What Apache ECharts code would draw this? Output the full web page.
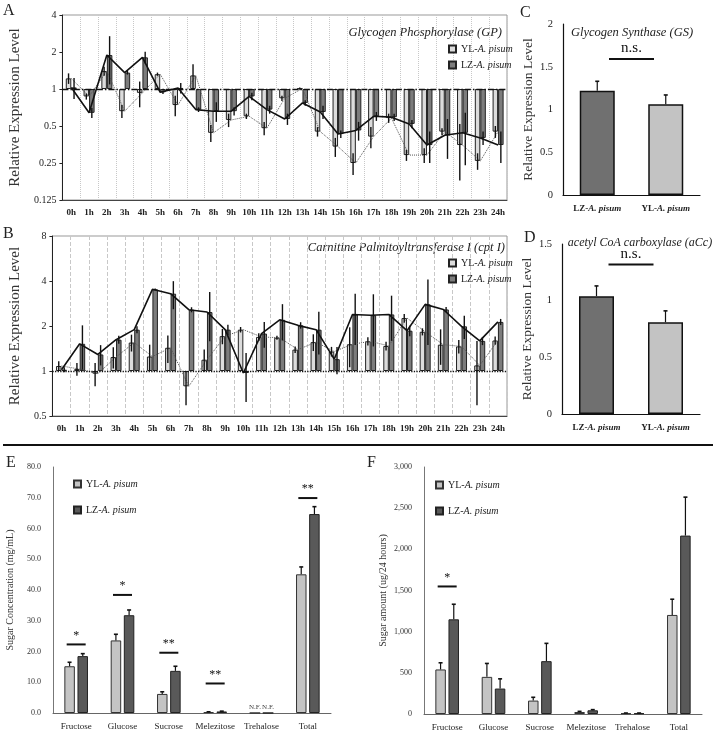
<!DOCTYPE html>
<html><head><meta charset="utf-8">
<script src="https://cdn.jsdelivr.net/npm/echarts@6/dist/echarts.min.js"></script>
<style>html,body{margin:0;padding:0;background:#fff}#c{width:716px;height:736px}</style>
</head><body><div id="c"></div>
<script>
// ---------- DATA ----------
const hours = ['0h','1h','2h','3h','4h','5h','6h','7h','8h','9h','10h','11h','12h','13h','14h','15h','16h','17h','18h','19h','20h','21h','22h','23h','24h'];
// Panel A: Glycogen Phosphorylase (GP)
const gpYL    = [1.22,0.87,1.40,0.66,0.93,1.32,0.74,1.29,0.44,0.56,0.60,0.48,0.84,1.01,0.45,0.34,0.25,0.41,0.58,0.29,0.29,0.45,0.35,0.26,0.45];
const gpYLErr = [0.12,0.05,0.12,0.08,0.22,0.04,0.14,0.30,0.07,0.07,0.03,0.06,0.04,0.02,0.04,0.06,0.05,0.08,0.05,0.03,0.04,0.03,0.17,0.04,0.05];
const gpLZ    = [1.03,0.64,1.89,1.36,1.81,0.94,1.02,0.68,0.66,0.66,0.87,0.68,0.57,0.77,0.65,0.43,0.46,0.60,0.59,0.52,0.35,0.42,0.44,0.40,0.35];
const gpLZErr = [0.20,0.06,0.80,0.05,0.20,0.03,0.10,0.03,0.12,0.05,0.06,0.05,0.06,0.04,0.08,0.03,0.08,0.05,0.04,0.04,0.10,0.15,0.20,0.05,0.10];
// Panel B: Carnitine Palmitoyltransferase I (cpt I)
const cptYL    = [1.08,1.03,0.96,1.24,1.55,1.25,1.43,0.79,1.19,1.71,1.89,1.69,1.67,1.39,1.56,1.35,1.51,1.58,1.47,2.26,1.83,1.50,1.46,1.09,1.60];
const cptYLErr = [0.08,0.10,0.17,0.20,0.20,0.25,0.30,0.20,0.20,0.20,0.08,0.10,0.05,0.07,0.20,0.10,0.45,0.10,0.10,0.15,0.10,0.40,0.15,0.50,0.10];
const cptLZ    = [1.02,1.52,1.29,1.62,1.89,3.52,3.29,2.57,2.48,1.89,0.97,1.78,2.20,2.02,1.89,1.20,2.39,2.36,2.39,1.86,2.79,2.58,1.99,1.59,2.13];
const cptLZErr = [0.04,0.50,0.20,0.10,0.10,0.05,0.70,0.10,0.90,0.15,0.35,0.35,0.60,0.10,0.60,0.25,0.90,0.90,0.80,0.15,1.30,0.10,0.35,0.10,0.10];
// Panels C, D
const strainCats = ['LZ-A. pisum','YL-A. pisum'];
const gsVals = [1.22, 1.06];
const gsErr  = [0.11, 0.11];
const accVals = [1.04, 0.81];
const accErr  = [0.09, 0.10];
const nsText = 'n.s.';
const gsSigY = 1.59;
const accSigY = 1.32;
// Panels E, F
const sugarCats = ['Fructose','Glucose','Sucrose','Melezitose','Trehalose','Total'];
const concYL    = [15.2, 23.6, 6.2, 0.3, 0, 45.1];
const concYLErr = [1.3, 2.0, 0.7, 0.1, 0, 2.4];
const concLZ    = [18.5, 31.8, 13.7, 0.5, 0, 64.7];
const concLZErr = [0.8, 1.7, 1.5, 0.1, 0, 2.4];
const concNF    = ['', '', '', '', 'N.F.', ''];
const concSigCat  = [0, 1, 2, 3, 5];
const concSigY    = [22.3, 38.4, 19.6, 9.6, 69.9];
const concSigText = ['*', '*', '**', '**', '**'];
const amtYL    = [541, 451, 163, 24, 8, 1203];
const amtYLErr = [81, 163, 40, 8, 4, 191];
const amtLZ    = [1150, 309, 642, 45, 8, 2167];
const amtLZErr = [183, 118, 216, 8, 4, 467];
const amtSigCat  = [0];
const amtSigY    = [1549];
const amtSigText = ['*'];

// ---------- STYLE ----------
const SERIF = 'Liberation Serif';
const cYLa = '#dcdcdc', cLZa = '#7c7c7c';
const cYLc = '#c3c3c3', cLZc = '#707070';
const cYLe = '#c4c4c4', cLZe = '#595959';
const BW_T = 5.5;
const richLeg = {
  n: {fontFamily: SERIF, fontSize: 10, color: '#222'},
  i: {fontFamily: SERIF, fontSize: 10, color: '#222', fontStyle: 'italic'}
};
function legFmt(name) { return '{n|' + name.split('-')[0] + '-}{i|A. pisum}'; }
function catFmt(v) { const k = v.indexOf('-'); return '{n|' + v.slice(0, k + 1) + '}{i|' + v.slice(k + 1) + '}'; }

function errRender(vals, errs, offset, cap, twoSided) {
  return function (params, api) {
    const i = params.dataIndex;
    const m = vals[i], e = errs[i];
    if (!e) return;
    const lo = twoSided ? Math.max(m - e, 1e-4) : m;
    const p1 = api.coord([i, lo]);
    const p2 = api.coord([i, m + e]);
    const cx = p1[0] + offset;
    const ch = [{type: 'line', shape: {x1: cx, y1: p1[1], x2: cx, y2: p2[1]}, style: {stroke: '#111', lineWidth: twoSided ? 1.4 : 1.2}}];
    if (cap) ch.push({type: 'line', shape: {x1: cx - cap, y1: p2[1], x2: cx + cap, y2: p2[1]}, style: {stroke: '#111', lineWidth: 1.6}});
    return {type: 'group', children: ch};
  };
}
function errSeries(xi, vals, errs, offset, cap, twoSided) {
  return {type: 'custom', xAxisIndex: xi, yAxisIndex: xi, z: 5, silent: true,
    renderItem: errRender(vals, errs, offset, cap, twoSided),
    data: vals.map((v, i) => [i, v])};
}
function sigSeries(xi, cats, ys, texts, halfW, fontSize, pair) {
  return {type: 'custom', xAxisIndex: xi, yAxisIndex: xi, z: 6, silent: true,
    renderItem: function (params, api) {
      const i = params.dataIndex;
      let cx, cy;
      if (pair) {
        const a = api.coord([0, ys[i]]), b = api.coord([1, ys[i]]);
        cx = (a[0] + b[0]) / 2; cy = a[1];
      } else {
        const p = api.coord([cats[i], ys[i]]); cx = p[0]; cy = p[1];
      }
      return {type: 'group', children: [
        {type: 'line', shape: {x1: cx - halfW, y1: cy, x2: cx + halfW, y2: cy}, style: {stroke: '#111', lineWidth: 2}},
        {type: 'text', x: cx, y: cy - 3, style: {text: texts[i], fontFamily: SERIF, fontSize: fontSize, fill: '#111', align: 'center', verticalAlign: 'bottom'}}
      ]};
    },
    data: ys.map((y, i) => [cats[i], y])};
}

function timeXAxis(gi, dashType) {
  return {type: 'category', gridIndex: gi, data: hours, boundaryGap: true,
    axisLine: {lineStyle: {color: '#444'}}, axisTick: {show: false},
    axisLabel: {interval: 0, fontFamily: SERIF, fontSize: 9, color: '#222', fontWeight: 'bold', margin: 8},
    splitLine: {show: true, interval: 0, lineStyle: {color: '#c8c8c8', type: dashType, width: 1}}};
}
function logYAxis(gi, mn, mx) {
  return {type: 'log', logBase: 2, gridIndex: gi, min: mn, max: mx,
    name: 'Relative Expression Level', nameLocation: 'middle', nameGap: 26,
    nameTextStyle: {fontFamily: SERIF, fontSize: 15, color: '#333'},
    axisLine: {show: true, lineStyle: {color: '#222'}},
    axisTick: {show: true, length: 3, lineStyle: {color: '#222'}},
    axisLabel: {fontFamily: SERIF, fontSize: 10, color: '#222', margin: 6,
      formatter: v => String(+(+v).toFixed(3))},
    splitLine: {show: false}};
}
function timeSeries(gi, yl, ylE, lz, lzE, refType) {
  const names = gi === 0 ? ['YL-A', 'LZ-A'] : ['YL-B', 'LZ-B'];
  return [
    {type: 'bar', name: names[0], xAxisIndex: gi, yAxisIndex: gi, data: yl, barWidth: BW_T, barGap: '0%',
     itemStyle: {color: cYLa, borderColor: '#222', borderWidth: 1},
     markLine: {silent: true, symbol: 'none', label: {show: false},
       lineStyle: {color: '#111', width: 1.3, type: refType}, data: [{yAxis: 1}]}},
    {type: 'bar', name: names[1], xAxisIndex: gi, yAxisIndex: gi, data: lz, barWidth: BW_T,
     itemStyle: {color: cLZa, borderColor: '#222', borderWidth: 1}},
    {type: 'line', xAxisIndex: gi, yAxisIndex: gi, data: yl, symbol: 'none', z: 4, silent: true,
     lineStyle: {color: '#555', width: 1, type: 'dotted'}},
    {type: 'line', xAxisIndex: gi, yAxisIndex: gi, data: lz, symbol: 'none', z: 4, silent: true,
     lineStyle: {color: '#111', width: 1.6}},
    errSeries(gi, yl, ylE, -BW_T / 2, 0, true),
    errSeries(gi, lz, lzE, BW_T / 2, 0, true)
  ];
}
function strainX(gi) {
  return {type: 'category', gridIndex: gi, data: strainCats,
    axisLine: {lineStyle: {color: '#111', width: 1.2}}, axisTick: {show: false},
    axisLabel: {interval: 0, hideOverlap: false, formatter: catFmt, margin: 9, rich: {
      n: {fontFamily: SERIF, fontSize: 9, color: '#222', fontWeight: 'bold'},
      i: {fontFamily: SERIF, fontSize: 9, color: '#222', fontStyle: 'italic', fontWeight: 'bold'}}}};
}
function strainY(gi, mx) {
  return {type: 'value', gridIndex: gi, min: 0, max: mx, interval: 0.5,
    name: 'Relative Expression Level', nameLocation: 'middle', nameGap: 28,
    nameTextStyle: {fontFamily: SERIF, fontSize: 13.5, color: '#333'},
    axisLine: {show: true, lineStyle: {color: '#111', width: 1.2}}, axisTick: {show: false},
    axisLabel: {fontFamily: SERIF, fontSize: 10.5, color: '#222', margin: 10},
    splitLine: {show: false}};
}
function strainSeries(gi, vals, errs, ys) {
  return [
    {type: 'bar', xAxisIndex: gi, yAxisIndex: gi, barWidth: 35,
     data: vals.map((v, i) => ({value: v, itemStyle: {color: i === 0 ? cLZc : cYLc}})),
     itemStyle: {borderColor: '#111', borderWidth: 1.5}},
    errSeries(gi, vals, errs, 0, 2, false),
    sigSeries(gi, [0], [ys], [nsText], 22.5, 15, true)
  ];
}
function sugarX(gi) {
  return {type: 'category', gridIndex: gi, data: sugarCats,
    axisLine: {lineStyle: {color: '#666'}}, axisTick: {show: false},
    axisLabel: {interval: 0, fontFamily: SERIF, fontSize: 9, color: '#222', margin: 9}};
}
function sugarY(gi, mx, itv, name, gap, fmt) {
  return {type: 'value', gridIndex: gi, min: 0, max: mx, interval: itv,
    name: name, nameLocation: 'middle', nameGap: gap,
    nameTextStyle: {fontFamily: SERIF, fontSize: 10, color: '#333'},
    axisLine: {show: true, lineStyle: {color: '#777'}}, axisTick: {show: false},
    axisLabel: {fontFamily: SERIF, fontSize: 8, color: '#333', margin: 12, formatter: fmt},
    splitLine: {show: false}};
}
function sugarSeries(gi, yl, ylE, lz, lzE, nf) {
  const names = gi === 4 ? ['YL-E', 'LZ-E'] : ['YL-F', 'LZ-F'];
  const lab = {show: !!nf, position: 'top', distance: 2, fontFamily: SERIF, fontSize: 7, color: '#444',
    formatter: p => nf ? nf[p.dataIndex] : ''};
  return [
    {type: 'bar', name: names[0], xAxisIndex: gi, yAxisIndex: gi, data: yl, barWidth: 10.5, barGap: '25%',
     itemStyle: {color: cYLe, borderColor: '#333', borderWidth: 1}, label: lab},
    {type: 'bar', name: names[1], xAxisIndex: gi, yAxisIndex: gi, data: lz, barWidth: 10.5,
     itemStyle: {color: cLZe, borderColor: '#222', borderWidth: 1}, label: lab},
    errSeries(gi, yl, ylE, -6.6, 2, false),
    errSeries(gi, lz, lzE, 6.6, 2, false)
  ];
}
function legend(names, left, top, gap) {
  return {data: names, left: left, top: top, orient: 'vertical', itemGap: gap, itemWidth: 7, itemHeight: 7,
    icon: 'rect', selectedMode: false, formatter: legFmt, textStyle: {rich: richLeg}, padding: 0};
}
function txt(x, y, s, size, italic, align) {
  return {type: 'text', x: x, y: y, silent: true, style: {text: s, fontFamily: SERIF, fontSize: size,
    fontStyle: italic ? 'italic' : 'normal', fill: '#222', align: align || 'left', verticalAlign: 'middle'}};
}

const option = {
  animation: false,
  backgroundColor: '#fff',
  grid: [
    {left: 43, top: 15, width: 464, height: 185, show: true, borderColor: '#999', borderWidth: 1},
    {left: 43, top: 236, width: 464, height: 180, show: true, borderColor: '#999', borderWidth: 1},
    {left: 563, top: 24, width: 137, height: 171},
    {left: 562, top: 244, width: 138, height: 170},
    {left: 53, top: 467, width: 278, height: 246},
    {left: 424, top: 467, width: 278, height: 247}
  ],
  xAxis: [timeXAxis(0, 'dotted'), timeXAxis(1, 'dashed'), strainX(2), strainX(3), sugarX(4), sugarX(5)],
  yAxis: [logYAxis(0, 0.125, 4), logYAxis(1, 0.5, 8), strainY(2, 2), strainY(3, 1.5),
    sugarY(4, 80, 10, 'Sugar Concentration (mg/mL)', 38, v => v.toFixed(1)),
    sugarY(5, 3000, 500, 'Sugar amount (ug/24 hours)', 36, v => v.toLocaleString('en-US'))],
  legend: [
    legend(['YL-A', 'LZ-A'], 448, 44, 6),
    legend(['YL-B', 'LZ-B'], 448, 258, 6),
    legend(['YL-E', 'LZ-E'], 73, 479, 16),
    legend(['YL-F', 'LZ-F'], 435, 480, 16)
  ],
  series: [].concat(
    timeSeries(0, gpYL, gpYLErr, gpLZ, gpLZErr, [6, 2, 1.5, 2]),
    timeSeries(1, cptYL, cptYLErr, cptLZ, cptLZErr, 'dotted'),
    strainSeries(2, gsVals, gsErr, gsSigY),
    strainSeries(3, accVals, accErr, accSigY),
    sugarSeries(4, concYL, concYLErr, concLZ, concLZErr, concNF),
    sugarSeries(5, amtYL, amtYLErr, amtLZ, amtLZErr, null),
    [sigSeries(4, concSigCat, concSigY, concSigText, 9.5, 12, false),
     sigSeries(5, amtSigCat, amtSigY, amtSigText, 9.5, 12, false)]
  ),
  graphic: [
    txt(3, 11, 'A', 16), txt(3, 234, 'B', 16), txt(520, 13, 'C', 16), txt(524, 238, 'D', 16),
    txt(6, 463, 'E', 16), txt(367, 463, 'F', 16),
    txt(502, 33, 'Glycogen Phosphorylase (GP)', 12.5, true, 'right'),
    txt(505, 248, 'Carnitine Palmitoyltransferase I (cpt I)', 12.5, true, 'right'),
    txt(632, 33, 'Glycogen Synthase (GS)', 12.5, true, 'center'),
    txt(640, 243, 'acetyl CoA carboxylase (aCc)', 12, true, 'center'),
    {type: 'line', silent: true, shape: {x1: 3, y1: 445, x2: 713, y2: 445}, style: {stroke: '#111', lineWidth: 2}}
  ]
};
const chart = echarts.init(document.getElementById('c'), null, {renderer: 'canvas'});
chart.setOption(option);
</script>
</body></html>
